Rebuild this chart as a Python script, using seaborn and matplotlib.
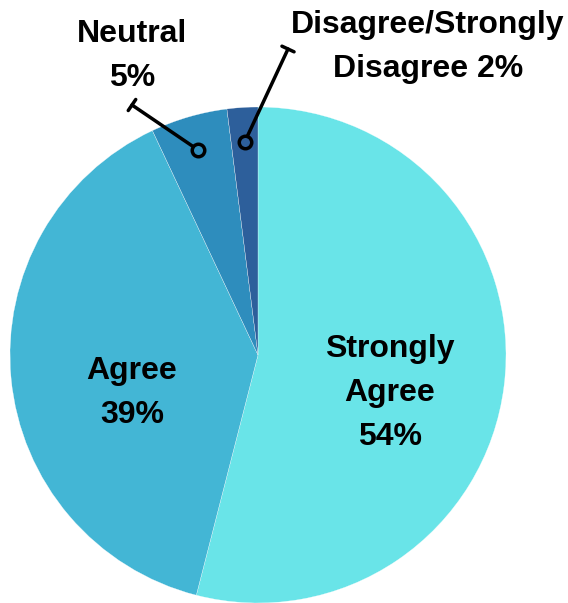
import numpy as np
import matplotlib
matplotlib.use("Agg")
import matplotlib.pyplot as plt
import seaborn as sns

categories = ["Strongly Agree", "Agree", "Neutral", "Disagree/Strongly Disagree"]
shares = [54, 39, 5, 2]
labels = ["Strongly\nAgree\n54%", "Agree\n39%", "Neutral\n5%", "Disagree/Strongly\nDisagree 2%"]
colors = ["#69e4e8", "#43b6d5", "#2e8dbd", "#2d5f9b"]

sns.set_theme(style="white")
plt.rcParams["font.family"] = ["Liberation Sans", "DejaVu Sans"]

fig = plt.figure(figsize=(5.68, 6.03), dpi=100)
ax = fig.add_axes([0, 0, 1, 1])

cx, cy, r = 258, 248, 248
wedges, _ = ax.pie(shares, colors=sns.color_palette(colors), startangle=90,
                   counterclock=False, center=(cx, cy), radius=r, frame=True,
                   wedgeprops=dict(edgecolor="white", linewidth=0.2))
ax.set_xlim(0, 568)
ax.set_ylim(0, 603)
ax.axis("off")

txt = dict(fontsize=23, fontweight="bold", ha="center", va="center",
           linespacing=1.6, color="black")

# inside labels
ax.text(390, 210, labels[0], **txt)
ax.text(132, 210, labels[1], **txt)

# outside labels with leader lines
ax.text(132, 547, labels[2], **txt)
ax.text(428, 556, labels[3], **txt)

caps = [(132, 498), (288, 554)]
for w, cap in zip(wedges[2:], caps):
    ang = np.deg2rad((w.theta1 + w.theta2) / 2)
    px, py = cx + 0.86 * r * np.cos(ang), cy + 0.86 * r * np.sin(ang)
    ax.annotate("", xy=(px, py), xytext=cap,
                arrowprops=dict(arrowstyle="|-|,widthA=0.4,widthB=0", color="black",
                                lw=2.5, shrinkA=0, shrinkB=5))
    ax.plot(px, py, marker="o", ms=9, mfc="none", mec="black", mew=2.5)

fig.savefig("out.png", dpi=100)
